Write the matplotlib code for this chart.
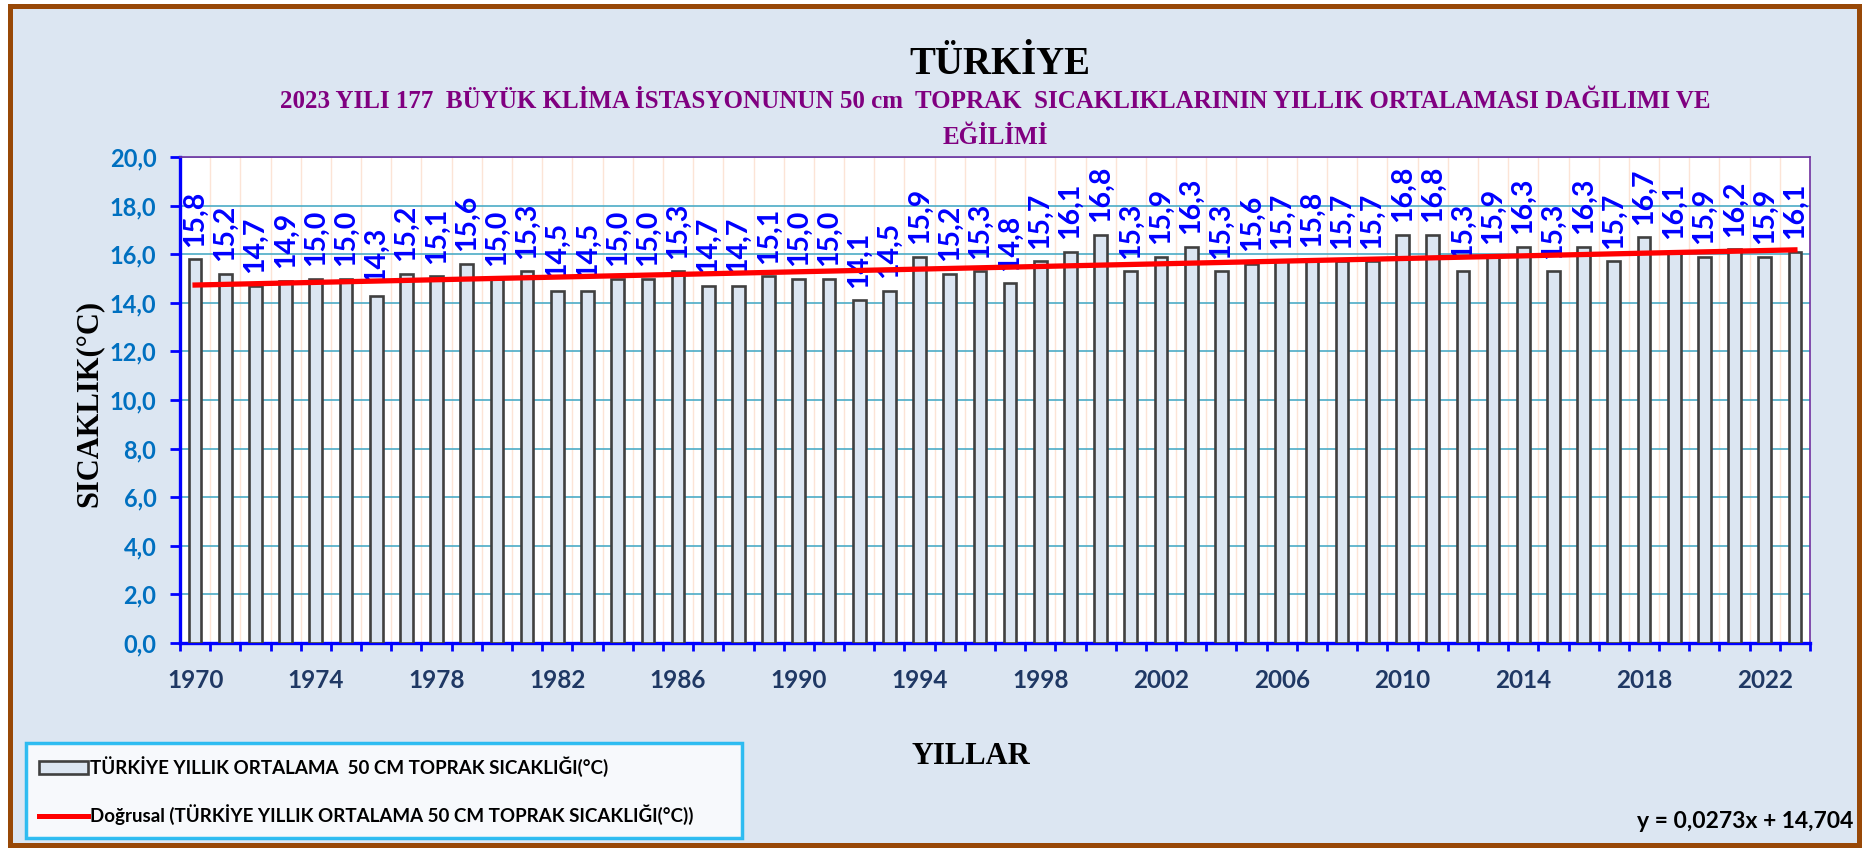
import matplotlib

matplotlib.use("Agg")
import matplotlib.pyplot as plt
import numpy as np
from matplotlib.lines import Line2D
from matplotlib.patches import Patch, Rectangle

# data (annual mean 50 cm soil temperature, degC)
years = list(range(1970, 2024))
temps = [15.8, 15.2, 14.7, 14.9, 15.0, 15.0, 14.3, 15.2, 15.1, 15.6,
         15.0, 15.3, 14.5, 14.5, 15.0, 15.0, 15.3, 14.7, 14.7, 15.1,
         15.0, 15.0, 14.1, 14.5, 15.9, 15.2, 15.3, 14.8, 15.7, 16.1,
         16.8, 15.3, 15.9, 16.3, 15.3, 15.6, 15.7, 15.8, 15.7, 15.7,
         16.8, 16.8, 15.3, 15.9, 16.3, 15.3, 16.3, 15.7, 16.7, 16.1,
         15.9, 16.2, 15.9, 16.1]
year_ticks = list(range(1970, 2023, 4))
y_ticks = [0, 2, 4, 6, 8, 10, 12, 14, 16, 18, 20]
# trend equation as printed on the chart (x = 1..n)
trend_slope = 0.0273
trend_intercept = 14.704

TITLE = "TÜRKİYE"
SUBTITLE = ("2023 YILI 177  BÜYÜK KLİMA İSTASYONUNUN 50 cm  TOPRAK  SICAKLIKLARININ "
            "YILLIK ORTALAMASI DAĞILIMI VE")
SUBTITLE2 = "EĞİLİMİ"
BAR_LABEL = "TÜRKİYE YILLIK ORTALAMA  50 CM TOPRAK SICAKLIĞI(°C)"
LINE_LABEL = "Doğrusal (TÜRKİYE YILLIK ORTALAMA 50 CM TOPRAK SICAKLIĞI(°C))"

W, H = 1876, 850
SERIF = "Liberation Serif"
SANS = "Lato"


def comma(v, fmt="{:.1f}"):
    return fmt.format(v).replace(".", ",")


fig = plt.figure(figsize=(W / 100, H / 100), dpi=100)
fig.patch.set_facecolor("white")
fig.patches.append(Rectangle((10 / W, 1 - 845 / H), 1849 / W, 839 / H,
                             transform=fig.transFigure, facecolor="#DCE6F2",
                             edgecolor="#984807", lw=3.6, zorder=-10))

ax = fig.add_axes([180 / W, 1 - 643 / H, 1630 / W, 486 / H])
ax.set_facecolor("white")

x = np.arange(len(years))
ax.bar(x, temps, width=0.42, color="#DCE6F2", edgecolor="#404040",
       linewidth=1.9, zorder=3)

for xi, v in zip(x, temps):
    ax.annotate(comma(v), (xi, v), xytext=(0, 9), textcoords="offset points",
                rotation=90, ha="center", va="bottom", color="#0000FF",
                fontsize=20.5, fontweight="bold", family=SANS, zorder=4)

n = np.arange(1, len(temps) + 1)
ax.plot(x, trend_slope * n + trend_intercept, color="#FF0000", lw=3.8, zorder=5)

ax.set_xlim(-0.5, len(years) - 0.5)
ax.set_ylim(0, 20)
ax.set_yticks(y_ticks)
ax.set_yticklabels([comma(v) for v in y_ticks])
ax.set_xticks([years.index(y) for y in year_ticks])
ax.set_xticklabels([str(y) for y in year_ticks])
ax.set_xticks(np.arange(-0.5, len(years)), minor=True)

ax.tick_params(axis="y", which="major", length=7, width=2, color="#0000FF",
               labelsize=17, labelcolor="#0070C0", pad=10)
ax.tick_params(axis="x", which="major", length=0, labelsize=17.5,
               labelcolor="#1F3864", pad=19)
ax.tick_params(axis="x", which="minor", length=6, width=2, color="#0000FF")
for lab in ax.get_xticklabels() + ax.get_yticklabels():
    lab.set_fontweight("bold")
    lab.set_family(SANS)

ax.grid(axis="y", which="major", color="#4BACC6", lw=1.2, zorder=1)
ax.grid(axis="x", which="minor", color="#FCE4D6", lw=1.0, zorder=1)
ax.set_axisbelow(True)

for side in ("left", "bottom"):
    ax.spines[side].set_color("#0000FF")
    ax.spines[side].set_linewidth(2.4)
for side in ("top", "right"):
    ax.spines[side].set_color("#7030A0")
    ax.spines[side].set_linewidth(1.2)

# titles and axis names
fig.text(1000 / W, 1 - 65 / H, TITLE, ha="center", va="center", family=SERIF,
         fontweight="bold", fontsize=28, color="black")
fig.text(995 / W, 1 - 102 / H, SUBTITLE, ha="center", va="center", family=SERIF,
         fontweight="bold", fontsize=18, color="#800080")
fig.text(995 / W, 1 - 137 / H, SUBTITLE2, ha="center", va="center", family=SERIF,
         fontweight="bold", fontsize=18, color="#800080")
fig.text(89 / W, 1 - 403 / H, "SICAKLIK(°C)", ha="center", va="center",
         rotation=90, family=SERIF, fontweight="bold", fontsize=22, color="black")
fig.text(971 / W, 1 - 757 / H, "YILLAR", ha="center", va="center", family=SERIF,
         fontweight="bold", fontsize=22, color="black")
fig.text(1853 / W, 1 - 822 / H,
         f"y = {comma(trend_slope, '{:.4f}')}x + {comma(trend_intercept, '{:.3f}')}",
         ha="right", va="center", family=SANS, fontweight="bold", fontsize=16.5,
         color="black")

handles = [Patch(facecolor="#DCE6F2", edgecolor="#404040", lw=1.9),
           Line2D([], [], color="#FF0000", lw=3.6)]
leg = fig.legend(handles, [BAR_LABEL, LINE_LABEL], loc="upper left",
                 bbox_to_anchor=(26 / W, 1 - 842 / H, 716 / W, 99 / H),
                 mode="expand", frameon=True, fancybox=False, borderpad=0.7,
                 borderaxespad=0, labelspacing=1.45, handlelength=2.6,
                 handletextpad=0.1,
                 prop={"family": SANS, "weight": "bold", "size": 13.5})
leg.get_frame().set_edgecolor("#00B0F0")
leg.get_frame().set_linewidth(2.5)
leg.get_frame().set_facecolor("white")

fig.savefig("out.png", dpi=100)
